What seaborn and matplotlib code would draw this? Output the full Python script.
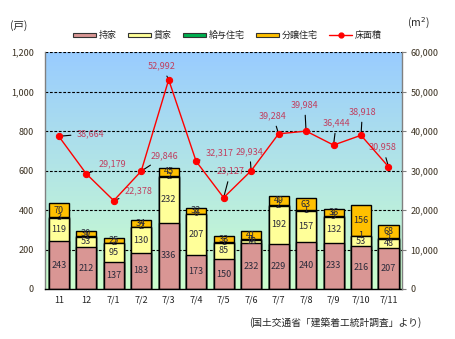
import numpy as np
import pandas as pd
import matplotlib
matplotlib.use("Agg")
import matplotlib.pyplot as plt
import matplotlib.patches as mpatches
import matplotlib.lines as mlines
from matplotlib.ticker import FuncFormatter, FixedLocator
import seaborn as sns

# ---- data -------------------------------------------------------------
months = ["11", "12", "7/1", "7/2", "7/3", "7/4", "7/5", "7/6",
          "7/7", "7/8", "7/9", "7/10", "7/11"]
owner = [243, 212, 137, 183, 336, 173, 150, 232, 229, 240, 233, 216, 207]
rental = [119, 53, 95, 130, 232, 207, 85, 18, 192, 157, 132, 53, 48]
issued = [3, 1, 2, 2, 2, 0, 1, 1, 2, 1, 5, 1, 2]
for_sale = [70, 30, 25, 34, 45, 32, 33, 41, 49, 63, 36, 156, 68]
floor_area = [38664, 29179, 22378, 29846, 52992, 32317, 23127, 29934,
              39284, 39984, 36444, 38918, 30958]

series_names = ["持家", "貸家", "給与住宅", "分譲住宅"]
series_vals = [owner, rental, issued, for_sale]
series_cols = ["#D99694", "#FFFF99", "#00B050", "#FFC000"]
line_name = "床面積"

# label offsets (points) for the floor-area annotations
label_offsets = [(23, 2), (19, 7), (18, 7), (17, 11), (-5, 10), (17, 6),
                 (5, 19), (-1, 14), (-4, 13), (-1, 19), (2, 16), (1, 17), (-4, 14)]

sns.set_theme(style="white")
plt.rcParams["font.family"] = ["Noto Sans CJK JP", "DejaVu Sans"]

fig = plt.figure(figsize=(4.55, 3.39), dpi=100)
ax = fig.add_axes([0.099, 0.1475, 0.785, 0.699])
n = len(months)
pos = np.arange(n)

# gradient plot background
grad = np.linspace(0, 1, 256).reshape(-1, 1)
top = np.array([153, 204, 255]) / 255
bot = np.array([204, 255, 204]) / 255
img = top[None, None, :] * (1 - grad[:, :, None]) + bot[None, None, :] * grad[:, :, None]
ax.imshow(img, extent=[-0.5, n - 0.5, 0, 1200], aspect="auto", zorder=0)

# stacked bars: draw cumulative totals from the top layer downwards
cum = np.cumsum(np.array(series_vals), axis=0)
df = pd.DataFrame({"month": months})
for i in range(len(series_vals) - 1, -1, -1):
    df["h"] = cum[i]
    sns.barplot(data=df, x="month", y="h", color=series_cols[i], saturation=1,
                edgecolor="black", linewidth=1.0, width=0.73, errorbar=None,
                ax=ax, zorder=2)

# segment value labels
for i, vals in enumerate(series_vals):
    base = cum[i] - np.array(vals)
    for j, v in enumerate(vals):
        ax.text(pos[j], base[j] + v / 2, f"{v}", ha="center", va="center",
                fontsize=6.5, color="#2A2A3A", zorder=5)

ax.set_xlim(-0.5, n - 0.5)
ax.set_ylim(0, 1200)
ax.set_yticks(np.arange(0, 1201, 200))
ax.yaxis.set_major_formatter(FuncFormatter(lambda v, p: f"{int(v):,}"))
for yv in range(200, 1201, 200):
    ax.axhline(yv, color="black", lw=0.8, ls=(0, (2.5, 1.5)), zorder=1)
ax.set_xlabel("")
ax.set_ylabel("")
ax.set_xticks(pos)
ax.set_xticklabels(months)
ax.xaxis.set_minor_locator(FixedLocator(np.arange(-0.5, n, 1.0)))
ax.tick_params(axis="x", which="major", length=0, labelsize=6.5, pad=5, colors="#222222")
ax.tick_params(axis="x", which="minor", length=3, width=0.8, color="black", direction="out")
ax.tick_params(axis="y", labelsize=6.5, length=0, pad=8, labelcolor="#3A3020")
for s in ["top", "right"]:
    ax.spines[s].set_visible(False)
ax.spines["left"].set_color("#808080")
ax.spines["left"].set_linewidth(1)
ax.spines["bottom"].set_color("black")
ax.spines["bottom"].set_linewidth(1)

# floor area line on secondary axis
ax2 = ax.twinx()
sns.lineplot(x=pos, y=floor_area, ax=ax2, color="#FF0000", lw=1.0,
             marker="o", markersize=4.5, markeredgecolor="#FF0000", zorder=6)
ax2.set_ylim(0, 60000)
ax2.set_yticks(np.arange(0, 60001, 10000))
ax2.yaxis.set_major_formatter(FuncFormatter(lambda v, p: f"{int(v):,}"))
ax2.tick_params(axis="y", labelsize=6.5, length=3, width=0.8, color="#808080",
                direction="out", pad=3, labelcolor="#3A3020")
ax2.grid(False)
for s in ["top", "left", "bottom"]:
    ax2.spines[s].set_visible(False)
ax2.spines["right"].set_color("#808080")
ax2.spines["right"].set_linewidth(1)

for j, v in enumerate(floor_area):
    ax2.annotate(f"{v:,}", xy=(pos[j], v), xytext=label_offsets[j],
                 textcoords="offset points", ha="center", va="center",
                 fontsize=6.5, color="#C04060",
                 arrowprops=dict(arrowstyle="-", color="black", lw=0.8,
                                 shrinkA=2, shrinkB=1))

# legend
handles = [mpatches.Patch(facecolor=c, edgecolor="#333333", lw=0.8, label=l)
           for c, l in zip(series_cols, series_names)]
handles.append(mlines.Line2D([], [], color="#FF0000", lw=1, marker="o",
                             markersize=3.5, label=line_name))
fig.legend(handles=handles, loc="center", bbox_to_anchor=(0.5, 0.895), ncol=5,
           frameon=False, fontsize=6.5, handlelength=2.6, handleheight=0.45,
           handletextpad=0.3, columnspacing=1.2)

fig.text(0.022, 0.925, "(戸)", fontsize=7.5, ha="left", va="center")
fig.text(0.895, 0.932, "(m$^2$)", fontsize=7.5, ha="left", va="center")
fig.text(0.925, 0.05, "(国土交通省「建築着工統計調査」より)", fontsize=7,
         ha="right", va="center")

fig.savefig("out.png", dpi=100)
